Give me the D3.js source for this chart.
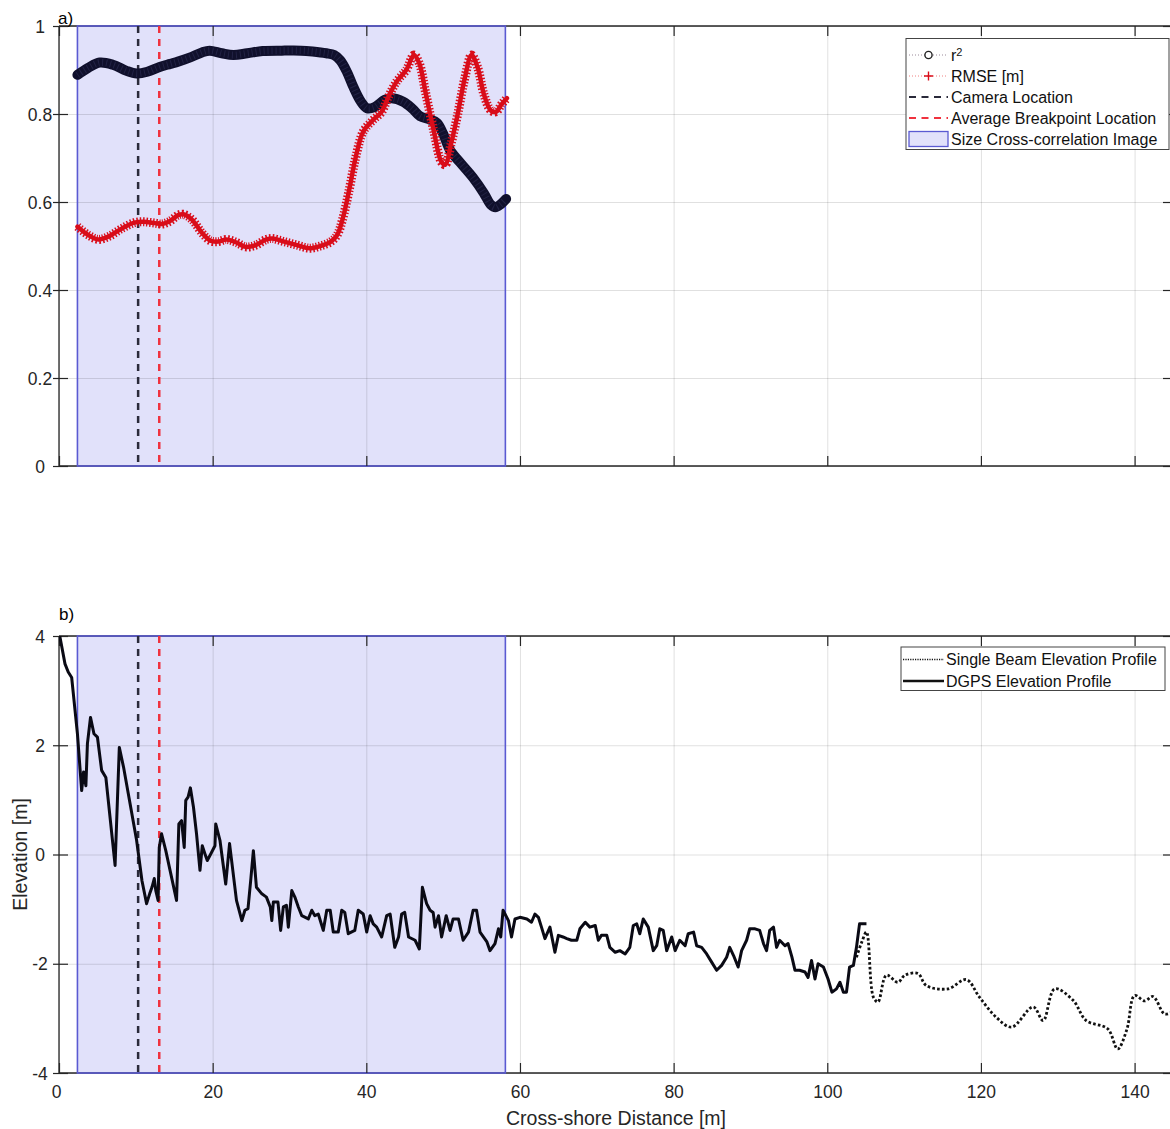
<!DOCTYPE html>
<html><head><meta charset="utf-8">
<script src="https://cdn.jsdelivr.net/npm/d3@7"></script>
<style>
html,body{margin:0;padding:0;background:#fff;}
svg{display:block;font-family:"Liberation Sans",Arial,Helvetica,sans-serif;}
</style></head>
<body>
<svg id="chart" width="1170" height="1129"></svg>
<script>
// ---------------- data ----------------
const xTicks = [0, 20, 40, 60, 80, 100, 120, 140];
const topYTicks = [0, 0.2, 0.4, 0.6, 0.8, 1];
const topYTickLabels = ["0", "0.2", "0.4", "0.6", "0.8", "1"];
const botYTicks = [-4, -2, 0, 2, 4];
const botYTickLabels = ["-4", "-2", "0", "2", "4"];

const cameraLocation = 10.3;
const breakpointLocation = 13.05;
const imageStart = 2.4;
const imageEnd = 58.1;

const r2Dist = [2.4,3.8,5.3,7,8.8,10.1,11.5,13.1,14.5,15.5,17,18.6,19.6,21.2,22.7,24.5,26.5,29,31.5,33,34.8,35.8,36.6,37.5,38.3,39.3,40.1,41,42.4,43.3,44.8,46,47,48.2,49.2,50,50.9,52.2,53.9,55.3,56.2,56.8,57.5,58.2];
const r2Vals = [0.889,0.905,0.917,0.912,0.898,0.892,0.896,0.907,0.914,0.919,0.928,0.940,0.944,0.938,0.934,0.938,0.943,0.944,0.944,0.942,0.938,0.934,0.922,0.895,0.862,0.828,0.813,0.815,0.832,0.836,0.828,0.812,0.795,0.788,0.780,0.755,0.718,0.690,0.655,0.620,0.594,0.588,0.595,0.607];

const rmseDist = [2.4,3.8,5.1,6.5,8.2,9.8,11,12.5,13.4,14.4,15.5,16.2,17.3,18.6,19.7,20.7,21.8,23.1,24.3,25.6,27,27.8,29.3,31,32.6,34,35.4,36.2,36.9,37.8,38.6,39.6,40.8,42,42.9,44,45.2,46.2,46.9,47.7,48.8,49.8,50.3,51,51.9,52.8,53.7,54.5,55.3,56.2,56.9,57.6,58.3];
const rmseVals = [0.544,0.525,0.515,0.522,0.540,0.553,0.555,0.552,0.550,0.556,0.570,0.572,0.560,0.530,0.512,0.510,0.515,0.508,0.498,0.502,0.515,0.517,0.510,0.502,0.495,0.500,0.510,0.525,0.560,0.630,0.700,0.760,0.785,0.805,0.840,0.875,0.900,0.934,0.915,0.850,0.760,0.690,0.685,0.730,0.800,0.880,0.934,0.905,0.845,0.808,0.805,0.822,0.836];

// DGPS elevation profile: [cross-shore distance (m), elevation (m)]
const dgpsProfile = [
  [0.1,4.0],[0.78,3.49],[1.2,3.34],[1.65,3.24],[2.4,2.21],[2.95,1.17],[3.2,1.51],[3.5,1.26],[3.7,2.03],[4.1,2.51],
  [4.55,2.21],[5.0,2.15],[5.55,1.54],[6.1,1.41],[7.3,-0.20],[7.85,1.96],[8.4,1.60],[10.1,0.26],[10.8,-0.48],[11.4,-0.90],
  [11.8,-0.72],[12.1,-0.60],[12.4,-0.44],[12.6,-0.66],[12.9,-0.84],[13.05,0.13],[13.35,0.38],[13.9,0.07],[15.3,-0.84],[15.6,0.56],
  [15.95,0.62],[16.3,0.13],[16.5,0.99],[16.8,1.05],[17.1,1.22],[17.5,0.87],[17.9,0.38],[18.35,-0.29],[18.65,0.16],[19.0,0.01],
  [19.3,-0.11],[19.75,0.01],[20.3,0.16],[20.4,0.56],[20.95,0.26],[21.7,-0.54],[22.2,0.20],
  [23.1,-0.84],[23.8,-1.21],[24.2,-1.02],[24.6,-0.99],[24.95,-0.48],[25.3,0.07],[25.7,-0.60],[26.4,-0.72],[27.0,-0.78],[27.5,-0.96],
  [27.7,-1.21],[27.9,-0.87],[28.5,-0.87],[28.85,-1.39],[29.2,-0.96],[29.6,-0.93],[29.85,-1.33],[30.3,-0.66],[30.7,-0.78],[31.15,-0.96],
  [31.6,-1.12],[32.45,-1.18],[32.9,-1.02],[33.3,-1.12],[33.75,-1.09],[34.4,-1.39],[34.85,-1.02],[35.3,-1.02],[35.7,-1.42],[36.35,-1.42],
  [36.8,-1.02],[37.2,-1.06],[37.65,-1.45],[38.5,-1.39],[38.95,-1.02],[39.6,-1.09],[40.05,-1.42],[40.5,-1.12],[40.9,-1.27],[41.35,-1.33],
  [42.0,-1.51],[42.65,-1.12],[43.1,-1.09],[43.7,-1.70],[44.2,-1.51],[44.6,-1.09],[45.0,-1.06],[45.5,-1.51],[46.35,-1.57],[46.9,-1.73],
  [47.3,-0.60],[47.85,-0.90],[48.3,-1.02],[48.7,-1.06],[48.95,-1.33],[49.4,-1.12],[49.8,-1.51],[50.4,-1.12],[50.9,-1.39],[51.3,-1.18],
  [52.0,-1.18],[52.6,-1.57],[53.3,-1.42],[53.9,-1.02],[54.35,-1.02],[54.8,-1.42],[55.7,-1.60],[56.1,-1.76],[56.75,-1.63],[57.2,-1.36],
  [57.5,-1.51],[57.8,-1.02],[58.5,-1.21],[58.9,-1.51],[59.35,-1.18],[60.0,-1.15],[60.9,-1.18],[61.5,-1.24],[61.95,-1.09],[62.4,-1.15],
  [62.8,-1.33],[63.25,-1.54],[63.9,-1.33],[64.55,-1.79],[65.0,-1.48],[65.6,-1.51],[66.1,-1.54],[66.7,-1.57],[67.4,-1.57],[67.8,-1.36],
  [68.5,-1.24],[69.1,-1.33],[69.8,-1.30],[70.2,-1.57],[70.6,-1.48],[71.3,-1.48],[71.7,-1.70],[72.4,-1.79],[73.0,-1.76],[73.7,-1.82],
  [74.3,-1.70],[74.75,-1.30],[75.2,-1.27],[75.6,-1.45],[76.05,-1.18],[76.7,-1.33],[77.35,-1.76],[77.8,-1.67],[78.2,-1.36],[78.65,-1.39],
  [79.1,-1.76],[79.75,-1.51],[80.2,-1.76],[80.8,-1.57],[81.5,-1.67],[81.9,-1.45],[82.6,-1.42],[83.0,-1.67],[83.65,-1.70],[84.3,-1.82],
  [84.95,-1.97],[85.6,-2.12],[86.25,-2.03],[86.9,-1.88],[87.3,-1.70],[87.8,-1.85],[88.4,-2.06],[88.85,-1.76],[89.5,-1.57],[89.9,-1.36],
  [90.6,-1.36],[91.2,-1.39],[91.7,-1.63],[92.1,-1.76],[92.5,-1.39],[93.0,-1.33],[93.4,-1.70],[93.8,-1.57],[94.5,-1.67],[94.9,-1.63],
  [95.4,-1.88],[95.8,-2.12],[96.4,-2.12],[97.1,-2.15],[97.5,-2.25],[97.95,-1.94],[98.4,-2.28],[98.8,-2.0],[99.5,-2.06],[100.1,-2.28],
  [100.6,-2.52],[101.2,-2.46],[101.65,-2.34],[102.1,-2.52],[102.5,-2.52],[102.9,-2.06],[103.4,-2.03],[103.8,-1.70],[104.2,-1.27],[105.1,-1.27]
];

// Single beam elevation profile: [cross-shore distance (m), elevation (m)]
const beamProfile = [
  [103.8,-1.88],[104.5,-1.6],[105.1,-1.42],[106.0,-2.61],[106.6,-2.70],[107.7,-2.21],[109.2,-2.34],[110.1,-2.21],[111.8,-2.18],[112.9,-2.40],
  [115.7,-2.46],[118.1,-2.29],[119.8,-2.61],[122.0,-2.98],[124.0,-3.16],[126.8,-2.79],[128.1,-3.04],[129.6,-2.46],[132.0,-2.67],[133.7,-3.04],
  [136.5,-3.19],[137.8,-3.56],[139.0,-3.2],[140.0,-2.58],[141.3,-2.68],[142.4,-2.60],[143.9,-2.92],[144.8,-2.89]
];

const legendTop = ["r", "RMSE [m]", "Camera Location", "Average Breakpoint Location", "Size Cross-correlation Image"];
const legendBottom = ["Single Beam Elevation Profile", "DGPS Elevation Profile"];

// ---------------- drawing ----------------
const svg = d3.select("#chart");
const axisColor = "#262626";
const rectFill = "#e1e1fa";
const rectStroke = "#5a5ad2";
const navy = "#10102c";
const red = "#d90d1a";

const L = 59, R = 1173;
const x = d3.scaleLinear().domain([0, 145]).range([L, R]);
const topP = {top: 26, bottom: 466};
const botP = {top: 636, bottom: 1073};
const yTop = d3.scaleLinear().domain([0, 1]).range([topP.bottom, topP.top]);
const yBot = d3.scaleLinear().domain([-4, 4]).range([botP.bottom, botP.top]);

svg.append("rect").attr("width", 1170).attr("height", 1129).attr("fill", "#fff");

const defs = svg.append("defs");
[["clipTop", topP], ["clipBot", botP]].forEach(([id, p]) => {
  defs.append("clipPath").attr("id", id).append("rect")
    .attr("x", L).attr("y", p.top).attr("width", R - L).attr("height", p.bottom - p.top);
});

function panel(p, y, yTicks, yLabels, showXLabels) {
  const g = svg.append("g");
  g.append("rect")
    .attr("x", x(imageStart)).attr("y", p.top)
    .attr("width", x(imageEnd) - x(imageStart)).attr("height", p.bottom - p.top)
    .attr("fill", rectFill);
  const gx = g.append("g").attr("transform", `translate(0,${p.bottom})`)
    .call(d3.axisBottom(x).tickValues(xTicks).tickSize(-(p.bottom - p.top)).tickFormat(""));
  gx.select(".domain").remove();
  gx.selectAll("line").attr("stroke", "#000").attr("stroke-opacity", 0.12).attr("stroke-width", 1);
  const gy = g.append("g").attr("transform", `translate(${L},0)`)
    .call(d3.axisLeft(y).tickValues(yTicks).tickSize(-(R - L)).tickFormat(""));
  gy.select(".domain").remove();
  gy.selectAll("line").attr("stroke", "#000").attr("stroke-opacity", 0.12).attr("stroke-width", 1);

  g.append("line").attr("x1", L).attr("x2", R).attr("y1", p.top).attr("y2", p.top).attr("stroke", axisColor).attr("stroke-width", 1.3);
  g.append("line").attr("x1", L).attr("x2", R).attr("y1", p.bottom).attr("y2", p.bottom).attr("stroke", axisColor).attr("stroke-width", 1.3);
  g.append("line").attr("x1", L).attr("x2", L).attr("y1", p.top).attr("y2", p.bottom).attr("stroke", axisColor).attr("stroke-width", 1.3);
  g.append("line").attr("x1", R).attr("x2", R).attr("y1", p.top).attr("y2", p.bottom).attr("stroke", axisColor).attr("stroke-width", 1.3);

  g.append("rect")
    .attr("x", x(imageStart)).attr("y", p.top)
    .attr("width", x(imageEnd) - x(imageStart)).attr("height", p.bottom - p.top)
    .attr("fill", "none").attr("stroke", rectStroke).attr("stroke-width", 1.6);

  const bx = g.append("g").attr("transform", `translate(0,${p.bottom})`)
    .call(d3.axisBottom(x).tickValues(xTicks).tickSizeInner(-10).tickSizeOuter(0)
      .tickFormat(showXLabels ? d3.format("d") : ""));
  bx.select(".domain").remove();
  bx.selectAll("line").attr("stroke", axisColor).attr("stroke-width", 1.2);
  bx.selectAll("text").attr("y", 19).attr("dy", "0.35em").attr("fill", axisColor)
    .attr("x", d => d === 0 ? -3 : 0)
    .style("font-size", "17.5px").style("font-family", "'Liberation Sans', Arial, sans-serif");
  const tx = g.append("g").attr("transform", `translate(0,${p.top})`)
    .call(d3.axisTop(x).tickValues(xTicks).tickSizeInner(-10).tickSizeOuter(0).tickFormat(""));
  tx.select(".domain").remove();
  tx.selectAll("line").attr("stroke", axisColor).attr("stroke-width", 1.2);

  const ly = g.append("g").attr("transform", `translate(${L},0)`)
    .call(d3.axisLeft(y).tickValues(yTicks).tickSizeInner(-9).tickSizeOuter(0)
      .tickFormat((d, i) => yLabels[i]));
  ly.select(".domain").remove();
  ly.selectAll("line").attr("x1", -6).attr("stroke", axisColor).attr("stroke-width", 1.2);
  ly.selectAll("text").attr("x", -19).attr("dy", "0.35em").attr("text-anchor", "middle").attr("fill", axisColor)
    .style("font-size", "17.5px").style("font-family", "'Liberation Sans', Arial, sans-serif");
  const ry = g.append("g").attr("transform", `translate(${R},0)`)
    .call(d3.axisRight(y).tickValues(yTicks).tickSizeInner(-10).tickSizeOuter(0).tickFormat(""));
  ry.select(".domain").remove();
  ry.selectAll("line").attr("stroke", axisColor).attr("stroke-width", 1.2);

  g.append("line").attr("x1", x(cameraLocation)).attr("x2", x(cameraLocation))
    .attr("y1", p.top).attr("y2", p.bottom)
    .attr("stroke", "#2a2a3a").attr("stroke-width", 2.5).attr("stroke-dasharray", "7,6");
  g.append("line").attr("x1", x(breakpointLocation)).attr("x2", x(breakpointLocation))
    .attr("y1", p.top).attr("y2", p.bottom)
    .attr("stroke", "#f0323e").attr("stroke-width", 2.5).attr("stroke-dasharray", "7,6");
  return g;
}

// ---------- panel a ----------
panel(topP, yTop, topYTicks, topYTickLabels, false);
const dataA = svg.append("g").attr("clip-path", "url(#clipTop)");
const lineTop = d3.line().curve(d3.curveCatmullRom.alpha(0.5));

const r2Pts = r2Dist.map((d, i) => [x(d), yTop(r2Vals[i])]);
dataA.append("path").attr("d", lineTop(r2Pts)).attr("fill", "none")
  .attr("stroke", navy).attr("stroke-width", 10).attr("stroke-linejoin", "round").attr("stroke-linecap", "round");
dataA.append("path").attr("d", lineTop(r2Pts)).attr("fill", "none")
  .attr("stroke", "#2e2e55").attr("stroke-width", 7).attr("stroke-dasharray", "1,3").attr("stroke-opacity", 0.6);

const rmsePts = rmseDist.map((d, i) => [x(d), yTop(rmseVals[i])]);
dataA.append("path").attr("d", lineTop(rmsePts)).attr("fill", "none")
  .attr("stroke", red).attr("stroke-width", 4.5).attr("stroke-linejoin", "round").attr("stroke-linecap", "round");
dataA.append("path").attr("d", lineTop(rmsePts)).attr("fill", "none")
  .attr("stroke", red).attr("stroke-width", 9).attr("stroke-dasharray", "1.4,1.8");

svg.append("text").attr("x", 58).attr("y", 18).attr("dy", "0.35em").attr("fill", "#000")
  .style("font-size", "17px").text("a)");

// legend a
{
  const lg = svg.append("g");
  lg.append("rect").attr("x", 906).attr("y", 38.5).attr("width", 263).attr("height", 111)
    .attr("fill", "#fff").attr("stroke", "#444").attr("stroke-width", 1);
  const rows = [55, 76, 97, 118, 139];
  const sx1 = 909, sx2 = 948, tx0 = 951;
  lg.append("line").attr("x1", sx1).attr("x2", sx2).attr("y1", rows[0]).attr("y2", rows[0])
    .attr("stroke", "#9a8a9a").attr("stroke-width", 1).attr("stroke-dasharray", "1,2");
  lg.append("circle").attr("cx", (sx1 + sx2) / 2).attr("cy", rows[0]).attr("r", 3.6)
    .attr("fill", "#fff").attr("stroke", "#222").attr("stroke-width", 1.4);
  lg.append("line").attr("x1", sx1).attr("x2", sx2).attr("y1", rows[1]).attr("y2", rows[1])
    .attr("stroke", "#f08080").attr("stroke-width", 1).attr("stroke-dasharray", "1,2");
  const cx = (sx1 + sx2) / 2;
  lg.append("path").attr("d", `M${cx - 4.5},${rows[1]}H${cx + 4.5}M${cx},${rows[1] - 4.5}V${rows[1] + 4.5}`)
    .attr("stroke", red).attr("stroke-width", 1.4);
  lg.append("line").attr("x1", sx1).attr("x2", sx2).attr("y1", rows[2]).attr("y2", rows[2])
    .attr("stroke", "#2a2a3a").attr("stroke-width", 2.2).attr("stroke-dasharray", "7,5.5");
  lg.append("line").attr("x1", sx1).attr("x2", sx2).attr("y1", rows[3]).attr("y2", rows[3])
    .attr("stroke", "#f0323e").attr("stroke-width", 2.2).attr("stroke-dasharray", "7,5.5");
  lg.append("rect").attr("x", sx1).attr("y", rows[4] - 7.5).attr("width", sx2 - sx1).attr("height", 15)
    .attr("fill", rectFill).attr("stroke", rectStroke).attr("stroke-width", 1.3);
  legendTop.forEach((t, i) => {
    const te = lg.append("text").attr("x", tx0).attr("y", rows[i]).attr("dy", "0.35em")
      .attr("fill", "#111").style("font-size", "16px").text(t);
    if (i === 0) te.append("tspan").attr("dy", "-0.45em").style("font-size", "11px").text("2");
  });
}

// ---------- panel b ----------
panel(botP, yBot, botYTicks, botYTickLabels, true);
const dataB = svg.append("g").attr("clip-path", "url(#clipBot)");
const beamPts = beamProfile.map(d => [x(d[0]), yBot(d[1])]);
dataB.append("path").attr("d", d3.line().curve(d3.curveCatmullRom.alpha(0.5))(beamPts)).attr("fill", "none")
  .attr("stroke", "#111").attr("stroke-width", 2.8).attr("stroke-dasharray", "2.6,2.2");
const dgpsPts = dgpsProfile.map(d => [x(d[0]), yBot(d[1])]);
dataB.append("path").attr("d", d3.line()(dgpsPts)).attr("fill", "none")
  .attr("stroke", "#0a0a14").attr("stroke-width", 3).attr("stroke-linejoin", "round");

svg.append("text").attr("x", 59).attr("y", 614).attr("dy", "0.35em").attr("fill", "#000")
  .style("font-size", "17px").text("b)");

// legend b
{
  const lg = svg.append("g");
  lg.append("rect").attr("x", 901).attr("y", 647).attr("width", 264).attr("height", 43.5)
    .attr("fill", "#fff").attr("stroke", "#444").attr("stroke-width", 1);
  const rows = [659.5, 681];
  lg.append("line").attr("x1", 903).attr("x2", 944).attr("y1", rows[0]).attr("y2", rows[0])
    .attr("stroke", "#111").attr("stroke-width", 1.6).attr("stroke-dasharray", "1.2,1.2");
  lg.append("line").attr("x1", 903).attr("x2", 944).attr("y1", rows[1]).attr("y2", rows[1])
    .attr("stroke", "#111").attr("stroke-width", 2.4);
  legendBottom.forEach((t, i) => {
    lg.append("text").attr("x", 946).attr("y", rows[i]).attr("dy", "0.35em")
      .attr("fill", "#111").style("font-size", "16px").text(t);
  });
}

svg.append("text").attr("x", x(72.5)).attr("y", 1118).attr("dy", "0.35em")
  .attr("text-anchor", "middle").attr("fill", axisColor).style("font-size", "19.5px")
  .text("Cross-shore Distance [m]");
svg.append("text").attr("transform", `translate(20,${(botP.top + botP.bottom) / 2}) rotate(-90)`)
  .attr("dy", "0.35em").attr("text-anchor", "middle").attr("fill", axisColor).style("font-size", "19.5px")
  .text("Elevation [m]");
</script>
</body></html>
